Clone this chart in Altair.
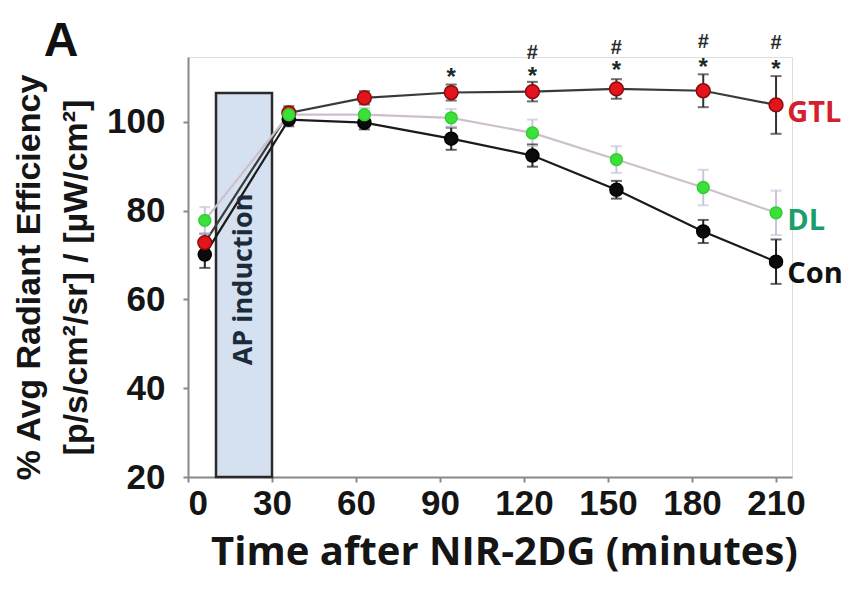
import altair as alt
import pandas as pd

# ---- data ----
times = [6, 36, 63, 94, 123, 153, 184, 210]

con_mean = [70.1, 100.5, 99.8, 96.2, 92.4, 84.7, 75.3, 68.5]
con_err = [3.0, 1.5, 1.5, 2.5, 2.5, 2.0, 2.6, 5.0]

dl_mean = [77.8, 101.6, 101.6, 100.9, 97.5, 91.5, 85.2, 79.5]
dl_err = [3.0, 1.5, 1.5, 2.0, 3.0, 3.0, 4.0, 5.0]

gtl_mean = [72.8, 102.0, 105.4, 106.6, 106.8, 107.4, 107.0, 103.8]
gtl_err = [2.0, 1.5, 1.5, 1.8, 2.2, 2.2, 3.7, 6.5]

series_names = ["Con", "GTL", "DL"]
series_means = [con_mean, gtl_mean, dl_mean]
series_errs = [con_err, gtl_err, dl_err]

# induction box
box_start = [10]
box_end = [30]
box_bottom = [20]
box_top = [106.5]
box_label = ["AP induction"]
box_label_x = [20]
box_label_y = [64.5]

# significance markers
star_x = [94, 123, 153, 184, 210]
star_y = [111.0, 111.2, 112.6, 113.3, 112.8]
hash_x = [123, 153, 184, 210]
hash_y = [115.5, 116.6, 117.9, 117.7]

# end labels
end_label_text = ["GTL", "DL", "Con"]
end_label_x = [214, 214, 214]
end_label_y = [102.0, 77.6, 65.8]
end_label_color = ["#D41F2E", "#1C9E6C", "#111111"]

# panel letter
panel_letter = ["A"]

# ---- styling ----
fill_colors = {"Con": "#0b0b0b", "GTL": "#E3141C", "DL": "#3BE03B"}
stroke_colors = {"Con": "#000000", "GTL": "#8a0c0c", "DL": "#2fcf2f"}
line_colors = {"Con": "#1a1a1a", "GTL": "#3a3a3a", "DL": "#cdbfcd"}
err_colors = {"Con": "#222222", "GTL": "#333333", "DL": "#c6c6da"}
point_sizes = {"Con": 170, "GTL": 190, "DL": 140}

x_scale = alt.Scale(domain=[0, 215.7], nice=False, zero=False)
y_scale = alt.Scale(domain=[20, 114.6], nice=False, zero=False)

x_axis = alt.Axis(
    values=[0, 30, 60, 90, 120, 150, 180, 210],
    grid=False,
    tickSize=5, tickWidth=2, tickColor="#888888",
    domainColor="#888888", domainWidth=2,
    labelFont="Liberation Sans", labelFontWeight="bold", labelFontSize=35,
    labelColor="#151515", labelPadding=4,
    title="Time after NIR-2DG (minutes)",
    titleFont="Open Sans", titleFontWeight="bold", titleFontSize=40,
    titleColor="#151515",
    titleX=316, titleY=75, titleBaseline="middle", titleAlign="center",
)
y_axis = alt.Axis(
    values=[20, 40, 60, 80, 100],
    grid=False,
    tickSize=5, tickWidth=2, tickColor="#888888",
    domainColor="#888888", domainWidth=2,
    labelFont="Liberation Sans", labelFontWeight="bold", labelFontSize=35,
    labelColor="#151515", labelPadding=18,
    title=["% Avg Radiant Efficiency", "[p/s/cm²/sr] / [µW/cm²]"],
    titleFont="Liberation Sans", titleFontWeight="bold", titleFontSize=34,
    titleColor="#151515", titleLineHeight=47,
    titleAngle=270, titleX=-142, titleY=220,
    titleBaseline="bottom", titleAlign="center",
)

box_df = pd.DataFrame({"x": box_start, "x2": box_end, "y": box_bottom, "y2": box_top})
box = alt.Chart(box_df).mark_rect(
    fill="#D5E1F0", stroke="#2a2a2a", strokeWidth=2.5
).encode(
    x=alt.X("x:Q", scale=x_scale, axis=x_axis),
    x2="x2:Q",
    y=alt.Y("y:Q", scale=y_scale, axis=y_axis),
    y2="y2:Q",
)

box_text = alt.Chart(pd.DataFrame({"x": box_label_x, "y": box_label_y, "t": box_label})).mark_text(
    angle=270, font="Open Sans", fontWeight="bold", fontSize=27, color="#1c2b3a",
    align="center", baseline="middle",
).encode(x=alt.X("x:Q", scale=x_scale), y=alt.Y("y:Q", scale=y_scale), text="t:N")

line_layers, err_layers, cap_layers, point_layers = [], [], [], []
for name, means, errs in zip(series_names, series_means, series_errs):
    df = pd.DataFrame({
        "time": times,
        "mean": means,
        "lo": [m - e for m, e in zip(means, errs)],
        "hi": [m + e for m, e in zip(means, errs)],
    })
    base = alt.Chart(df)
    line_layers.append(
        base.mark_line(color=line_colors[name], strokeWidth=2.2).encode(
            x=alt.X("time:Q", scale=x_scale), y=alt.Y("mean:Q", scale=y_scale)
        )
    )
    err_layers.append(
        base.mark_rule(color=err_colors[name], strokeWidth=2).encode(
            x=alt.X("time:Q", scale=x_scale), y=alt.Y("lo:Q", scale=y_scale), y2="hi:Q"
        )
    )
    for col in ["lo", "hi"]:
        cap_layers.append(
            base.mark_tick(color=err_colors[name], orient="horizontal", size=11, thickness=2).encode(
                x=alt.X("time:Q", scale=x_scale), y=alt.Y(f"{col}:Q", scale=y_scale)
            )
        )
    point_layers.append(
        base.mark_circle(
            fill=fill_colors[name], stroke=stroke_colors[name], strokeWidth=1.5,
            opacity=1, size=point_sizes[name],
        ).encode(x=alt.X("time:Q", scale=x_scale), y=alt.Y("mean:Q", scale=y_scale))
    )

stars = alt.Chart(pd.DataFrame({"x": star_x, "y": star_y, "t": ["*"] * len(star_x)})).mark_text(
    font="Liberation Sans", fontWeight="bold", fontSize=24, color="#1a2a2a",
    align="center", baseline="middle", dy=5,
).encode(x=alt.X("x:Q", scale=x_scale), y=alt.Y("y:Q", scale=y_scale), text="t:N")

hashes = alt.Chart(pd.DataFrame({"x": hash_x, "y": hash_y, "t": ["#"] * len(hash_x)})).mark_text(
    font="Liberation Sans", fontWeight="bold", fontSize=20, color="#2a2a2a",
    align="center", baseline="middle",
).encode(x=alt.X("x:Q", scale=x_scale), y=alt.Y("y:Q", scale=y_scale), text="t:N")

end_labels = alt.Chart(pd.DataFrame({
    "x": end_label_x, "y": end_label_y, "t": end_label_text, "c": end_label_color
})).mark_text(
    font="Open Sans", fontWeight="bold", fontSize=29, align="left", baseline="middle",
).encode(
    x=alt.X("x:Q", scale=x_scale), y=alt.Y("y:Q", scale=y_scale), text="t:N",
    color=alt.Color("c:N", scale=None, legend=None),
)

letter = alt.Chart(pd.DataFrame({"t": panel_letter})).mark_text(
    font="Liberation Sans", fontWeight="bold", fontSize=48, color="#111111",
    align="center", baseline="middle",
).encode(x=alt.value(-127), y=alt.value(-15), text="t:N")

chart = alt.layer(
    box, *line_layers, box_text, *err_layers, *cap_layers, *point_layers,
    stars, hashes, end_labels, letter,
).properties(
    width=604, height=420,
    autosize=alt.AutoSizeParams(type="none"),
    padding={"left": 180, "top": 49, "right": 58, "bottom": 110},
).configure_view(stroke=None).configure(background="white")

chart.save("out.html", embed_options={"renderer": "svg", "actions": False})
